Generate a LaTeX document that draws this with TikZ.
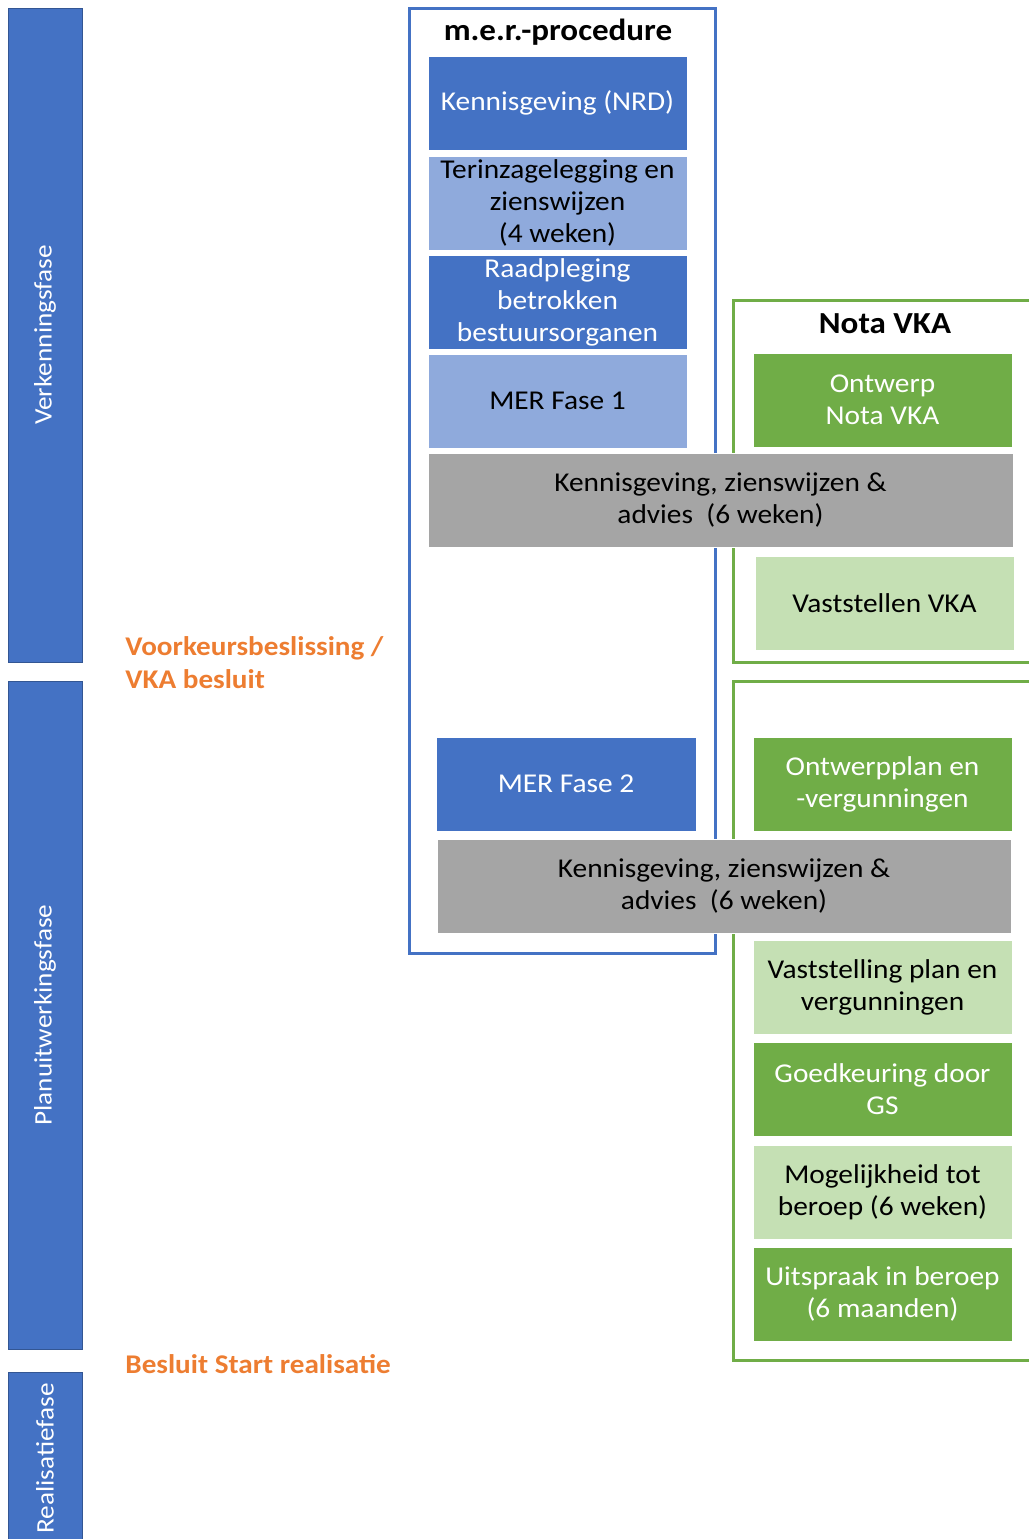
\documentclass[tikz,border=0pt]{standalone}
\usepackage{fontspec}
\setmainfont{Carlito}[FakeStretch=1.08]
\definecolor{merblue}{HTML}{4472C4}
\definecolor{merlight}{HTML}{8FAADC}
\definecolor{vkagreen}{HTML}{70AD47}
\definecolor{vkalight}{HTML}{C5E0B4}
\definecolor{stapgrey}{HTML}{A5A5A5}
\definecolor{besluitorange}{HTML}{ED7D31}
\tikzset{
	fase/.style={rotate=90, fill=merblue, draw=merblue!75!black, line width=.4pt, text=white, inner sep=0pt, minimum height=37pt, font=\fontsize{12.6}{15}\selectfont},
	blok/.style={anchor=north west, inner sep=0pt, outer sep=0pt, minimum width=129.5pt, minimum height=47pt, align=center, draw=white, line width=.5pt, font=\fontsize{13.6}{16}\selectfont},
	merdonker/.style={blok, fill=merblue, text=white},
	merlicht/.style={blok, fill=merlight},
	vkadonker/.style={blok, fill=vkagreen, text=white},
	vkalicht/.style={blok, fill=vkalight},
	zienswijze/.style={blok, fill=stapgrey},
	kop/.style={font=\bfseries\fontsize{15.3}{18}\selectfont},
	besluit/.style={anchor=north west, align=left, inner sep=0pt, text=besluitorange, font=\bfseries\fontsize{13.5}{16.5}\selectfont},
}
\begin{document}
\begin{tikzpicture}[x=.5pt, y=-.5pt, line join=miter]
	\useasboundingbox (0,0) rectangle (1029,1539);
	% fasen
	\node[fase, minimum width=327pt] (verk) at (45,335) {Verkenningsfase};
	\node[fase, minimum width=334pt] (plan) at (45,1015) {Planuitwerkingsfase};
	\node[fase, minimum width=86.5pt] (real) at (45,1458.5) {Realisatiefase};
	% kaders
	\draw[merblue, line width=1.5pt] (409,8) rectangle (715,953);
	\draw[vkagreen, line width=1.5pt] (1035,300) -| (733,662) -- (1035,662);
	\draw[vkagreen, line width=1.5pt] (1035,681) -| (733,1360) -- (1035,1360);
	\node[kop] (mer) at (558,32) {m.e.r.-procedure};
	\node[kop] (nota) at (885,324) {Nota VKA};
	% m.e.r.-procedure
	\node[merdonker] (nrd) at (428,56) {Kennisgeving (NRD)};
	\node[merlicht] (inzage) at (428,156) {Terinzagelegging en\\zienswijzen\\(4 weken)};
	\node[merdonker] (raad) at (428,255) {Raadpleging\\betrokken\\bestuursorganen};
	\node[merlicht] (fase1) at (428,354) {MER Fase 1};
	\node[merdonker, minimum width=130pt] (fase2) at (436,737) {MER Fase 2};
	% Nota VKA
	\node[vkadonker] (ontwerp) at (753,353) {Ontwerp\\Nota VKA};
	\node[vkalicht] (vaststellen) at (755,556) {Vaststellen VKA};
	\node[zienswijze, minimum width=292.5pt] (advies1) at (428,453) {Kennisgeving, zienswijzen \&\\advies~~(6 weken)};
	% plan
	\node[vkadonker] (ontwerpplan) at (753,737) {Ontwerpplan en\\-vergunningen};
	\node[zienswijze, minimum width=287pt] (advies2) at (437,839) {Kennisgeving, zienswijzen \&\\advies~~(6 weken)};
	\node[vkalicht] (vaststelling) at (753,940) {Vaststelling plan en\\vergunningen};
	\node[vkadonker] (gs) at (753,1042) {Goedkeuring door\\GS};
	\node[vkalicht] (beroep) at (753,1145) {Mogelijkheid tot\\beroep (6 weken)};
	\node[vkadonker] (uitspraak) at (753,1247) {Uitspraak in beroep\\(6 maanden)};
	% besluiten
	\node[besluit] (vka) at (125,636) {Voorkeursbeslissing /\\VKA besluit};
	\node[besluit] (start) at (125,1354) {Besluit Start realisatie};
\end{tikzpicture}
\end{document}
